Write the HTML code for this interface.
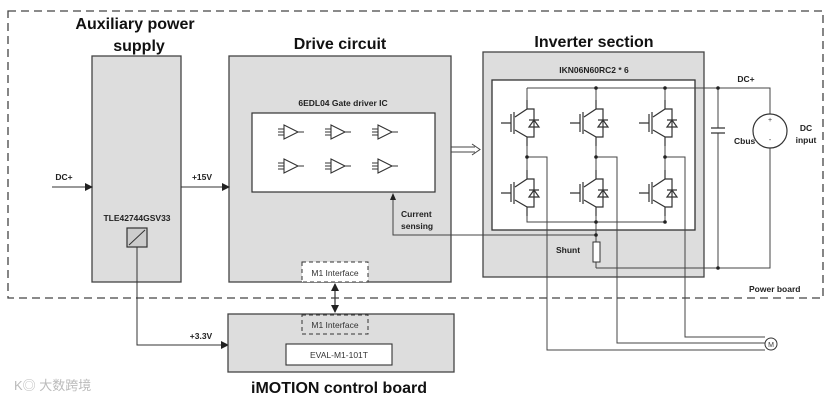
<!DOCTYPE html>
<html><head><meta charset="utf-8"><style>
html,body{margin:0;padding:0;background:#fff;}
svg{display:block;font-family:"Liberation Sans",sans-serif;}
</style></head><body>
<svg width="834" height="402" viewBox="0 0 834 402" xmlns="http://www.w3.org/2000/svg">
<defs>
<marker id="ar" markerWidth="8" markerHeight="8" refX="7" refY="4" orient="auto" markerUnits="userSpaceOnUse"><path d="M0,0 L8,4 L0,8 z" fill="#222"/></marker>
<marker id="ar2" markerWidth="8" markerHeight="8" refX="1" refY="4" orient="auto" markerUnits="userSpaceOnUse"><path d="M8,0 L0,4 L8,8 z" fill="#222"/></marker>
<g id="sw" stroke="#333" stroke-width="1.2" fill="none">
<path d="M0,-23 V-14 L-12,-6 M-12,7 L0,14 V23"/>
<path d="M-26,0 H-16 M-16,-9 V9 M-13,-11 V11"/>
<path d="M0,-14 H7 V14 H0"/>
<path d="M2,-3 H12 M2,4 L7,-3 L12,4 Z"/>
</g>
<g id="amp" stroke="#333" stroke-width="1.1" fill="none">
<path d="M0,-7 L14,0 L0,7 Z M-6,-3 H0 M-6,0 H0 M-6,3 H0 M14,0 H20"/>
</g>
</defs>
<rect x="8" y="11" width="815" height="287" fill="none" stroke="#444" stroke-width="1.3" stroke-dasharray="8,5"/>
<text x="135" y="29" font-size="16" font-weight="bold" text-anchor="middle" fill="#111">Auxiliary power</text>
<text x="139" y="51" font-size="16" font-weight="bold" text-anchor="middle" fill="#111">supply</text>
<text x="340" y="49" font-size="16" font-weight="bold" text-anchor="middle" fill="#111">Drive circuit</text>
<text x="594" y="47" font-size="16" font-weight="bold" text-anchor="middle" fill="#111">Inverter section</text>
<rect x="92" y="56" width="89" height="226" fill="#ddd" stroke="#444" stroke-width="1.3"/>
<text x="137" y="221" font-size="8.5" font-weight="bold" text-anchor="middle" fill="#222">TLE42744GSV33</text>
<rect x="127" y="228" width="20" height="19" fill="#ccc" stroke="#333" stroke-width="1.2"/>
<path d="M129,245 L145,230" stroke="#333" stroke-width="1"/>
<rect x="229" y="56" width="222" height="226" fill="#ddd" stroke="#444" stroke-width="1.3"/>
<text x="343" y="106" font-size="8.5" font-weight="bold" text-anchor="middle" fill="#222">6EDL04 Gate driver IC</text>
<rect x="252" y="113" width="183" height="79" fill="#fff" stroke="#333" stroke-width="1.2"/>
<use href="#amp" x="284" y="132"/><use href="#amp" x="331" y="132"/><use href="#amp" x="378" y="132"/>
<use href="#amp" x="284" y="166"/><use href="#amp" x="331" y="166"/><use href="#amp" x="378" y="166"/>
<rect x="302" y="262" width="66" height="20" fill="#fff" stroke="#333" stroke-width="1" stroke-dasharray="4,3"/>
<text x="335" y="276" font-size="8.5" text-anchor="middle" fill="#333">M1 Interface</text>
<text x="64" y="180" font-size="8.5" font-weight="bold" text-anchor="middle" fill="#222">DC+</text>
<line x1="52" y1="187" x2="92" y2="187" stroke="#333" stroke-width="1" marker-end="url(#ar)"/>
<text x="202" y="180" font-size="8.5" font-weight="bold" text-anchor="middle" fill="#222">+15V</text>
<line x1="181" y1="187" x2="229" y2="187" stroke="#333" stroke-width="1" marker-end="url(#ar)"/>
<path d="M137,247 V345 H228" fill="none" stroke="#333" stroke-width="1" marker-end="url(#ar)"/>
<text x="201" y="339" font-size="8.5" font-weight="bold" text-anchor="middle" fill="#222">+3.3V</text>
<line x1="335" y1="284" x2="335" y2="312" stroke="#333" stroke-width="1.2" marker-end="url(#ar)" marker-start="url(#ar2)"/>
<rect x="228" y="314" width="226" height="58" fill="#ddd" stroke="#444" stroke-width="1.3"/>
<rect x="302" y="315" width="66" height="19" fill="#ddd" stroke="#333" stroke-width="1" stroke-dasharray="4,3"/>
<text x="335" y="328" font-size="8.5" text-anchor="middle" fill="#333">M1 Interface</text>
<rect x="286" y="344" width="106" height="21" fill="#fff" stroke="#333" stroke-width="1.1"/>
<text x="339" y="358" font-size="8.5" text-anchor="middle" fill="#333">EVAL-M1-101T</text>
<text x="339" y="393" font-size="16" font-weight="bold" text-anchor="middle" fill="#111">iMOTION control board</text>
<text x="14" y="390" font-size="13" fill="#bbb" font-family="'Liberation Sans','Noto Sans CJK SC',sans-serif">K◎ 大数跨境</text>
<path d="M451,147 H475 M451,152 H475 M472,144 L480,149.5 L472,155" fill="none" stroke="#444" stroke-width="1"/>
<rect x="483" y="52" width="221" height="225" fill="#ddd" stroke="#444" stroke-width="1.3"/>
<text x="594" y="73" font-size="8.5" font-weight="bold" text-anchor="middle" fill="#222">IKN06N60RC2 * 6</text>
<rect x="492" y="80" width="203" height="150" fill="#fff" stroke="#333" stroke-width="1.3"/>
<g stroke="#444" stroke-width="1" fill="none">
<path d="M527,88 H770 V268 H596"/>
<path d="M527,88 V100 M596,88 V100 M665,88 V100"/>
<path d="M527,146 V177 M596,146 V177 M665,146 V177"/>
<path d="M527,216 V222 H665 V216 M596,216 V242"/>
<path d="M596,262 V268"/>
<path d="M718,88 V128 M718,133 V268"/>
<path d="M596,235 H393 V195"/>
<path d="M527,157 H547 V350 H765 M596,157 H617 V343 H765 M665,157 H685 V337 H765"/>
</g>
<path d="M393,193 l-3,7 h6 z" fill="#222"/>
<use href="#sw" x="527" y="123"/><use href="#sw" x="596" y="123"/><use href="#sw" x="665" y="123"/>
<use href="#sw" x="527" y="193"/><use href="#sw" x="596" y="193"/><use href="#sw" x="665" y="193"/>
<g fill="#222">
<circle cx="596" cy="88" r="1.8"/><circle cx="665" cy="88" r="1.8"/><circle cx="718" cy="88" r="1.8"/>
<circle cx="527" cy="157" r="1.8"/><circle cx="596" cy="157" r="1.8"/><circle cx="665" cy="157" r="1.8"/>
<circle cx="596" cy="222" r="1.8"/><circle cx="665" cy="222" r="1.8"/><circle cx="596" cy="235" r="1.8"/>
<circle cx="718" cy="268" r="1.8"/>
</g>
<path d="M711,128 H725 M711,133 H725" stroke="#333" stroke-width="1.3"/>
<text x="734" y="144" font-size="8.5" font-weight="bold" fill="#222">Cbus</text>
<text x="746" y="82" font-size="8.5" font-weight="bold" text-anchor="middle" fill="#222">DC+</text>
<circle cx="770" cy="131" r="17" fill="#fff" stroke="#333" stroke-width="1.2"/>
<text x="770" y="122" font-size="7" text-anchor="middle" fill="#333">+</text>
<text x="770" y="142" font-size="7" text-anchor="middle" fill="#333">-</text>
<text x="806" y="131" font-size="8.5" font-weight="bold" text-anchor="middle" fill="#222">DC</text>
<text x="806" y="143" font-size="8.5" font-weight="bold" text-anchor="middle" fill="#222">input</text>
<rect x="593" y="242" width="7" height="20" fill="#fff" stroke="#333" stroke-width="1"/>
<text x="556" y="253" font-size="8.5" font-weight="bold" fill="#222">Shunt</text>
<text x="401" y="217" font-size="8.5" font-weight="bold" fill="#222">Current</text>
<text x="401" y="229" font-size="8.5" font-weight="bold" fill="#222">sensing</text>
<text x="749" y="292" font-size="8.5" font-weight="bold" fill="#222">Power board</text>
<circle cx="771" cy="344" r="6" fill="#fff" stroke="#333" stroke-width="1"/>
<text x="771" y="347" font-size="7" text-anchor="middle" fill="#333">M</text>
</svg>
</body></html>
